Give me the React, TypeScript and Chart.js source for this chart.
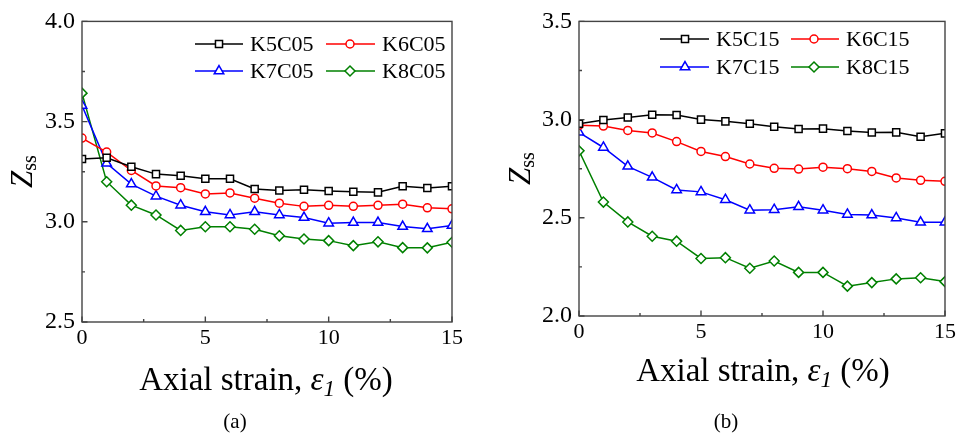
import React, { useEffect, useRef } from 'react';
import { Chart, registerables } from 'chart.js';

Chart.register(...registerables);

// ---------- data ----------
const STRAIN = [0, 1, 2, 3, 4, 5, 6, 7, 8, 9, 10, 11, 12, 13, 14, 15];

const K5C05 = [3.313, 3.32, 3.275, 3.238, 3.23, 3.215, 3.215, 3.164, 3.156, 3.16, 3.154, 3.15, 3.147, 3.177, 3.169, 3.177];
const K6C05 = [3.418, 3.348, 3.256, 3.179, 3.17, 3.139, 3.144, 3.118, 3.093, 3.077, 3.082, 3.077, 3.082, 3.088, 3.07, 3.065];
const K7C05 = [3.58, 3.292, 3.188, 3.128, 3.083, 3.05, 3.034, 3.05, 3.034, 3.021, 2.993, 2.996, 2.996, 2.976, 2.965, 2.981];
const K8C05 = [3.642, 3.2, 3.083, 3.034, 2.957, 2.975, 2.975, 2.963, 2.93, 2.914, 2.906, 2.881, 2.9, 2.871, 2.87, 2.898];

const K5C15 = [2.979, 2.998, 3.011, 3.025, 3.023, 3.0, 2.991, 2.979, 2.964, 2.952, 2.954, 2.942, 2.934, 2.935, 2.913, 2.93];
const K6C15 = [2.971, 2.967, 2.945, 2.932, 2.888, 2.838, 2.812, 2.774, 2.752, 2.748, 2.758, 2.75, 2.736, 2.703, 2.691, 2.686];
const K7C15 = [2.935, 2.858, 2.762, 2.706, 2.642, 2.632, 2.592, 2.539, 2.541, 2.556, 2.539, 2.517, 2.514, 2.499, 2.477, 2.477];
const K8C15 = [2.841, 2.58, 2.479, 2.406, 2.381, 2.293, 2.297, 2.243, 2.28, 2.222, 2.222, 2.152, 2.17, 2.189, 2.195, 2.175];

const LABELS_A = ['K5C05', 'K6C05', 'K7C05', 'K8C05'];
const LABELS_B = ['K5C15', 'K6C15', 'K7C15', 'K8C15'];

const X_RANGE = [0, 15];
const X_STEP = 5;
const Y_RANGE_A = [2.5, 4.0];
const Y_RANGE_B = [2.0, 3.5];
const Y_STEP = 0.5;

const X_TITLE = ['Axial strain, ', 'ε', '1', ' (%)'];
const Y_TITLE = ['Z', 'ss'];
const CAPTIONS = ['(a)', '(b)'];

// ---------- styles ----------
const SERIF = '"Liberation Serif"';
const COLORS = ['#000000', '#ff0000', '#0000ff', '#008000'];
const STYLES = ['rect', 'circle', 'triangle', 'rectRot'];
const RADII = [5, 4, 5.5, 5];
const AXIS_COLOR = '#444444';

type Part = { t: string; font: string; dy?: number };

function partsWidth(ctx: CanvasRenderingContext2D, parts: Part[]) {
  let w = 0;
  for (const p of parts) {
    ctx.font = p.font;
    w += ctx.measureText(p.t).width;
  }
  return w;
}

function drawParts(ctx: CanvasRenderingContext2D, parts: Part[], cx: number, by: number) {
  const total = partsWidth(ctx, parts);
  let x = cx - total / 2;
  ctx.textAlign = 'left';
  ctx.textBaseline = 'alphabetic';
  for (const p of parts) {
    ctx.font = p.font;
    ctx.fillText(p.t, x, by + (p.dy || 0));
    x += ctx.measureText(p.t).width;
  }
}

function drawMarker(ctx: CanvasRenderingContext2D, style: string, x: number, y: number, r: number) {
  ctx.beginPath();
  if (style === 'circle') {
    ctx.arc(x, y, r, 0, Math.PI * 2);
  } else if (style === 'rect') {
    const s = Math.SQRT1_2 * r;
    ctx.rect(x - s, y - s, 2 * s, 2 * s);
  } else if (style === 'triangle') {
    for (let i = 0; i < 3; i++) {
      const a = (i * 2 * Math.PI) / 3;
      const px = x + Math.sin(a) * r;
      const py = y - Math.cos(a) * r;
      if (i === 0) ctx.moveTo(px, py);
      else ctx.lineTo(px, py);
    }
  } else {
    ctx.moveTo(x, y - r);
    ctx.lineTo(x + r, y);
    ctx.lineTo(x, y + r);
    ctx.lineTo(x - r, y);
  }
  ctx.closePath();
  ctx.fillStyle = '#ffffff';
  ctx.fill();
  ctx.stroke();
}

type PanelCfg = {
  width: number;
  series: number[][];
  labels: string[];
  yRange: number[];
  yWidth: number;
  padTop: number;
  padRight: number;
  padBottom: number;
  legendRows: number[];
  legendCols: { l1: number; l2: number; m: number; t: number }[];
  yTitleX: number;
  xTitle: { cx: number; by: number };
  caption: { text: string; cx: number; by: number };
};

function makeChart(canvas: HTMLCanvasElement, cfg: PanelCfg) {
  const decor = {
    id: 'decor',
    afterDraw(chart: any) {
      const ctx: CanvasRenderingContext2D = chart.ctx;
      const a = chart.chartArea;
      const xs = chart.scales.x;
      const ys = chart.scales.y;
      ctx.save();
      // frame
      ctx.strokeStyle = AXIS_COLOR;
      ctx.lineWidth = 1.4;
      ctx.strokeRect(a.left, a.top, a.right - a.left, a.bottom - a.top);
      // inward ticks
      ctx.beginPath();
      for (let v = X_RANGE[0]; v <= X_RANGE[1] + 1e-9; v += X_STEP / 2) {
        const major = Math.abs(v / X_STEP - Math.round(v / X_STEP)) < 1e-6;
        const px = xs.getPixelForValue(v);
        ctx.moveTo(px, a.bottom);
        ctx.lineTo(px, a.bottom - (major ? 5.5 : 3));
      }
      for (let v = cfg.yRange[0]; v <= cfg.yRange[1] + 1e-9; v += Y_STEP / 2) {
        const major = Math.abs(v / Y_STEP - Math.round(v / Y_STEP)) < 1e-6;
        const py = ys.getPixelForValue(v);
        ctx.moveTo(a.left, py);
        ctx.lineTo(a.left + (major ? 5.5 : 3), py);
      }
      ctx.stroke();

      // legend
      cfg.labels.forEach((lab, i) => {
        const row = cfg.legendRows[Math.floor(i / 2)];
        const col = cfg.legendCols[i % 2];
        ctx.strokeStyle = COLORS[i];
        ctx.lineWidth = 1.5;
        ctx.beginPath();
        ctx.moveTo(col.l1, row);
        ctx.lineTo(col.l2, row);
        ctx.stroke();
        drawMarker(ctx, STYLES[i], col.m, row, RADII[i]);
        ctx.fillStyle = '#000';
        ctx.font = `22px ${SERIF}`;
        ctx.textAlign = 'left';
        ctx.textBaseline = 'alphabetic';
        ctx.fillText(lab, col.t, row + 7.3);
      });

      // x title
      ctx.fillStyle = '#000';
      drawParts(
        ctx,
        [
          { t: X_TITLE[0], font: `33px ${SERIF}` },
          { t: X_TITLE[1], font: `italic 33px ${SERIF}` },
          { t: X_TITLE[2], font: `italic 23px ${SERIF}`, dy: 6 },
          { t: X_TITLE[3], font: `33px ${SERIF}` },
        ],
        cfg.xTitle.cx,
        cfg.xTitle.by
      );

      // y title
      ctx.save();
      ctx.translate(cfg.yTitleX, (a.top + a.bottom) / 2);
      ctx.rotate(-Math.PI / 2);
      drawParts(
        ctx,
        [
          { t: Y_TITLE[0], font: `italic 31px ${SERIF}` },
          { t: Y_TITLE[1], font: `20px ${SERIF}`, dy: 4 },
        ],
        0,
        0
      );
      ctx.restore();

      // caption
      ctx.font = `21px ${SERIF}`;
      ctx.textAlign = 'center';
      ctx.textBaseline = 'alphabetic';
      ctx.fillText(cfg.caption.text, cfg.caption.cx, cfg.caption.by);
      ctx.restore();
    },
  };

  return new Chart(canvas, {
    type: 'line',
    data: {
      datasets: cfg.series.map((s, i) => ({
        label: cfg.labels[i],
        data: STRAIN.map((x, j) => ({ x, y: s[j] })),
        borderColor: COLORS[i],
        backgroundColor: '#ffffff',
        borderWidth: 1.5,
        pointStyle: STYLES[i] as any,
        pointRadius: RADII[i],
        pointBorderWidth: 1.5,
        pointBorderColor: COLORS[i],
        pointBackgroundColor: '#ffffff',
        tension: 0,
        clip: 0,
      })),
    },
    options: {
      responsive: false,
      animation: false,
      devicePixelRatio: 1,
      font: { family: SERIF },
      layout: {
        padding: { left: 0, top: cfg.padTop, right: cfg.padRight, bottom: cfg.padBottom },
      },
      plugins: {
        legend: { display: false },
        tooltip: { enabled: false },
      },
      scales: {
        x: {
          type: 'linear',
          min: X_RANGE[0],
          max: X_RANGE[1],
          grid: { display: false, drawTicks: false },
          border: { display: false },
          ticks: {
            stepSize: X_STEP,
            padding: 3,
            color: '#000',
            font: { family: SERIF, size: 22 },
            callback: (v: any) => String(v),
          },
          afterFit: (s: any) => {
            s.height = 40;
          },
        },
        y: {
          type: 'linear',
          min: cfg.yRange[0],
          max: cfg.yRange[1],
          grid: { display: false, drawTicks: false },
          border: { display: false },
          ticks: {
            stepSize: Y_STEP,
            padding: 7,
            color: '#000',
            font: { family: SERIF, size: 24 },
            callback: (v: any) => Number(v).toFixed(1),
          },
          afterFit: (s: any) => {
            s.width = cfg.yWidth;
          },
        },
      },
    },
    plugins: [decor],
  } as any);
}

const PANEL_A: PanelCfg = {
  width: 480,
  series: [K5C05, K6C05, K7C05, K8C05],
  labels: LABELS_A,
  yRange: Y_RANGE_A,
  yWidth: 82,
  padTop: 17,
  padRight: 28,
  padBottom: 73,
  legendRows: [44, 71],
  legendCols: [
    { l1: 195, l2: 243, m: 219, t: 250 },
    { l1: 326, l2: 375, m: 350, t: 382 },
  ],
  yTitleX: 32,
  xTitle: { cx: 266, by: 390 },
  caption: { text: CAPTIONS[0], cx: 235, by: 428 },
};

const PANEL_B: PanelCfg = {
  width: 479,
  series: [K5C15, K6C15, K7C15, K8C15],
  labels: LABELS_B,
  yRange: Y_RANGE_B,
  yWidth: 99,
  padTop: 19,
  padRight: 13,
  padBottom: 79,
  legendRows: [39, 67],
  legendCols: [
    { l1: 180, l2: 229, m: 205, t: 236 },
    { l1: 311, l2: 359, m: 334, t: 366 },
  ],
  yTitleX: 50,
  xTitle: { cx: 283, by: 381 },
  caption: { text: CAPTIONS[1], cx: 246, by: 428 },
};

const FONT_SPECS = [`20px ${SERIF}`, `italic 20px ${SERIF}`];

function Panel({ cfg, left }: { cfg: PanelCfg; left: number }) {
  const ref = useRef<HTMLCanvasElement | null>(null);
  useEffect(() => {
    let chart: Chart | null = null;
    let cancelled = false;
    const build = () => {
      if (cancelled || !ref.current) return;
      chart = makeChart(ref.current, cfg);
    };
    const fonts = (document as any).fonts;
    if (fonts && fonts.load) {
      Promise.all(FONT_SPECS.map((f) => fonts.load(f))).then(build, build);
    } else {
      build();
    }
    return () => {
      cancelled = true;
      if (chart) chart.destroy();
    };
  }, [cfg]);
  return (
    <canvas
      ref={ref}
      width={cfg.width}
      height={435}
      style={{ position: 'absolute', left, top: 0, width: cfg.width, height: 435 }}
    />
  );
}

export default function App() {
  return (
    <div
      style={{
        position: 'fixed',
        left: 0,
        top: 0,
        width: 959,
        height: 435,
        background: '#ffffff',
        overflow: 'hidden',
        fontFamily: SERIF,
      }}
    >
      <span style={{ position: 'absolute', left: -1000, top: 0, fontFamily: SERIF }}>
        a<i>a</i>
      </span>
      <Panel cfg={PANEL_A} left={0} />
      <Panel cfg={PANEL_B} left={480} />
    </div>
  );
}
